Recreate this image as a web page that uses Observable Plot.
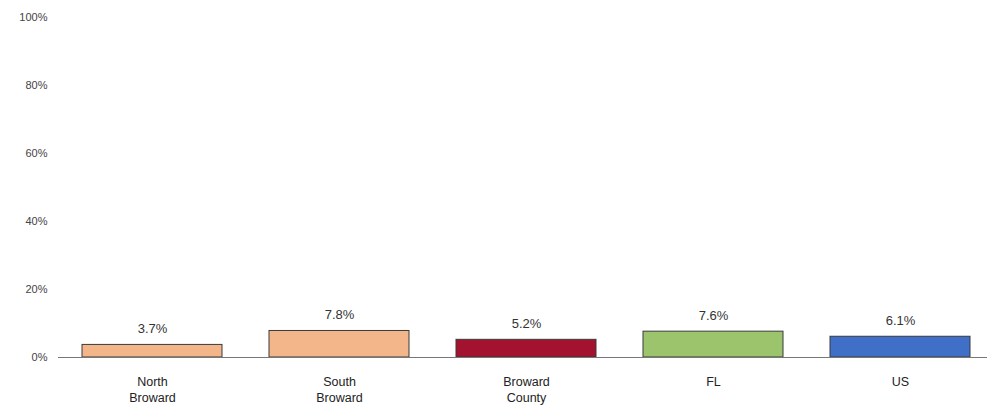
<!DOCTYPE html>
<html>
<head>
<meta charset="utf-8">
<script src="https://cdn.jsdelivr.net/npm/d3@7"></script>
<script src="https://cdn.jsdelivr.net/npm/@observablehq/plot@0.6"></script>
<style>
  html, body { margin: 0; padding: 0; background: #fff; }
  #chart svg { display: block; }
</style>
</head>
<body>
<div id="chart"></div>
<script>
const categories = ["North Broward", "South Broward", "Broward County", "FL", "US"];
const tickLabels = ["North\nBroward", "South\nBroward", "Broward\nCounty", "FL", "US"];
const values = [3.7, 7.8, 5.2, 7.6, 6.1];
const colors = ["#F2B68A", "#F2B68A", "#A3122E", "#9CC46C", "#3F6FC6"];
const yTicks = [0, 20, 40, 60, 80, 100];

const data = categories.map((c, i) => ({ category: c, value: values[i], color: colors[i] }));
const labelOf = new Map(categories.map((c, i) => [c, tickLabels[i]]));

const chart = Plot.plot({
  width: 987,
  height: 408,
  marginLeft: 58,
  marginRight: 0,
  marginTop: 17,
  marginBottom: 51,
  style: { fontFamily: "Liberation Sans, Arial, sans-serif", background: "#fff" },
  x: { domain: categories, range: [58, 995], paddingInner: 0.25, paddingOuter: 0.125 },
  y: { domain: [0, 100], range: [357, 17] },
  marks: [
    Plot.axisY({
      ticks: yTicks,
      tickFormat: d => d + "%",
      tickSize: 0,
      tickPadding: 11,
      fontSize: 11,
      fill: "#444",
      label: null
    }),
    Plot.axisX({
      tickSize: 0,
      tickPadding: 17,
      fontSize: 12.5,
      fill: "#222",
      lineHeight: 1.3,
      tickFormat: d => labelOf.get(d),
      label: null
    }),
    Plot.barY(data, {
      x: "category",
      y: "value",
      fill: "color",
      stroke: "#3a3a3a",
      strokeWidth: 1
    }),
    Plot.ruleY([0], { stroke: "#777", strokeWidth: 1 }),
    Plot.text(data, {
      x: "category",
      y: "value",
      text: d => d.value.toFixed(1) + "%",
      dy: -16,
      fontSize: 13,
      fill: "#333"
    })
  ]
});

document.getElementById("chart").appendChild(chart);
</script>
</body>
</html>
